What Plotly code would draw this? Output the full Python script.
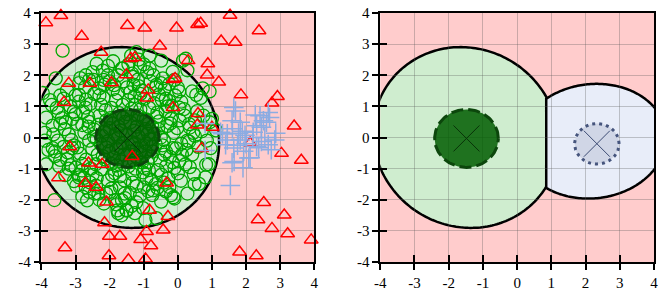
import numpy as np
import plotly.graph_objects as go

# ---------------- data ----------------
tick_vals = [-4, -3, -2, -1, 0, 1, 2, 3, 4]
tick_text = ["-4", "-3", "-2", "-1", "0", "1", "2", "3", "4"]

# class 1 (green open circles)
green_outer = [
    (-3.38, 2.79), (-3.58, 1.90), (-2.38, 2.37), (-2.90, 1.37), (-2.47, 1.85), (-3.96, 1.43),
    (-3.86, 0.64), (-3.67, 0.38), (-3.29, 0.49), (-3.00, 0.75), (-2.71, 0.96), (-2.18, 1.85),
    (-1.65, 2.21), (-1.37, 2.63), (-1.21, 2.74), (-0.83, 2.63), (-0.49, 2.47), (0.23, 2.53),
    (0.28, 2.16), (-0.44, 1.90), (0.42, 1.48), (0.67, 1.27), (0.57, 0.85), (0.33, 0.43),
    (0.04, 0.96), (-0.83, 2.21), (-0.15, 2.11), (-1.11, 2.27), (-0.63, 1.69), (0.04, 1.48),
    (-0.25, 1.17), (0.15, 2.47), (0.73, 1.58), (0.93, 0.49), (1.12, 0.23), (0.93, 1.48),
    (0.54, 1.37), (-3.62, -2.01), (-3.67, -0.34), (-3.48, -0.92), (-3.86, -0.86), (-3.10, -0.34),
    (-3.00, -0.97), (-2.90, -1.28), (-2.33, -1.80), (-1.99, -1.75), (-1.75, -2.43), (-1.51, -2.33),
    (-1.85, -2.01), (-1.56, -1.80), (-1.26, -2.43), (-1.02, -2.27), (-1.11, -1.86), (-0.63, -2.59),
    (-0.49, -2.06), (-0.10, -1.96), (0.28, -1.80), (0.62, -1.49), (0.47, -1.18), (0.81, -1.28),
    (0.91, -0.86), (0.96, -0.34), (0.09, -1.39), (-0.25, -1.59), (-0.73, -1.70), (-0.34, -0.92),
    (0.04, -0.76), (0.42, -0.55), (-0.15, -0.34), (0.33, -0.13), (-0.95, -2.65), (-0.13, -1.92),
    (0.49, -1.50), (0.83, -0.87), (-1.77, -2.34), (0.70, 0.20), (0.85, -0.10), (0.60, -0.30),
    (1.00, 0.60), (0.75, 0.70), (0.50, 0.05), (-3.75, 1.20), (-3.45, 1.35), (-3.90, 0.15),
    (-3.80, -0.40), (-3.90, -0.10), (-3.60, -0.60),
]
green_inner = [
    (-1.52, 0.08), (-1.31, -0.22), (-1.74, 0.35), (-2.05, -0.12), (-0.96, 0.27), (-1.18, 0.71),
    (-1.88, -0.64), (-2.33, 0.41), (-0.72, -0.45), (-1.45, -0.93), (-1.62, 1.05), (-2.51, -0.37),
    (-0.55, 0.52), (-1.02, -1.12), (-2.12, 0.88), (-1.27, 1.33), (-2.74, 0.15), (-0.41, -0.08),
    (-1.93, -1.21), (-0.84, 0.95), (-2.41, -0.86), (-1.11, -0.48), (-1.69, -0.31), (-2.26, -0.21),
    (-0.68, 0.12), (-1.39, 0.49), (-1.98, 0.62), (-0.89, -0.79), (-1.57, -1.38), (-2.63, 0.66),
    (-0.31, 0.37), (-1.05, 1.51), (-2.18, 1.27), (-0.59, -1.05), (-2.87, -0.52), (-1.76, 1.42),
    (-0.23, -0.62), (-2.95, 0.44), (-1.21, -1.56), (-0.47, 1.21), (-2.57, 1.08), (-1.83, 0.11),
    (-1.15, 0.03), (-2.38, -1.31), (-0.77, -1.37), (-3.12, -0.08), (-0.12, 0.15), (-1.66, -0.77),
    (-2.02, -0.44), (-1.36, 0.92), (-0.93, 0.58), (-2.69, -0.71), (-0.36, 0.84), (-1.49, 1.61),
    (-2.24, -1.02), (-0.65, -0.21), (-3.05, 0.83), (-0.05, -0.35), (-1.87, 1.68), (-2.81, -1.06),
    (-0.18, 1.02), (-3.23, -0.48), (-1.29, -0.74), (-1.60, 0.63), (-2.15, 0.19), (-0.82, -0.05),
    (-1.07, -0.28), (-2.46, 0.03), (-1.73, -1.05), (-0.51, -0.74), (-2.90, 1.15), (-0.99, 1.24),
    (-2.31, 1.58), (-0.10, -0.98), (-1.41, -1.78), (-3.32, 0.27), (-0.28, -1.31), (-1.95, -1.64),
    (-2.58, -1.44), (0.05, 0.55), (-3.15, -0.89), (-0.64, 1.62), (-1.17, 1.86), (-2.05, 2.00),
    (-2.72, 1.62), (-3.40, 0.62), (0.12, -0.55), (-0.87, -1.72), (-1.64, -2.02), (-2.44, -1.80),
    (-3.30, -1.21), (0.18, 0.91), (-0.39, 1.56), (-1.34, 2.05), (-2.86, 1.91), (-3.52, -0.10),
    (0.28, -0.10), (-0.60, -1.62), (-1.22, -2.08), (-2.17, -2.12), (-2.98, -1.55), (-3.55, 0.95),
    (-0.08, 1.35), (-0.72, 2.00), (-1.62, 2.22), (-2.50, 2.10), (-3.25, 1.52), (0.35, 0.32),
    (0.22, -0.86), (-0.35, -1.73), (-1.50, -2.35), (-2.66, -2.02), (-3.45, -0.72), (-0.25, 1.72),
    (-1.00, 2.35), (-1.90, 2.45), (-1.20, 0.35), (-1.80, -0.35), (-1.40, -0.45), (-1.00, 0.60),
    (-2.00, 0.30), (-1.55, 0.50), (-1.35, -0.15), (-1.75, 0.00), (-1.25, -1.00), (-1.95, 0.95),
    (-0.75, 0.35), (-2.20, -0.60), (-1.05, -0.80), (-2.60, -0.10), (-0.50, 0.00), (-1.45, 1.20),
    (-1.70, -1.60), (-0.95, -0.45), (-2.30, 0.70), (-0.60, 0.80), (-2.80, 0.40), (-2.45, 1.40),
    (-3.05, -0.25), (-0.35, -0.45), (-0.20, 0.60), (-2.75, -1.30), (-1.30, 1.70), (-0.85, -1.05),
]
green_extra = [
    (-1.62, -0.18), (-1.28, 0.22), (-1.90, 0.45), (-2.10, -0.32), (-0.88, 0.12), (-1.10, 0.90),
    (-1.95, -0.85), (-2.45, 0.25), (-0.78, -0.62), (-1.33, -1.18), (-1.82, 1.20), (-2.35, -0.55),
    (-0.62, 0.66), (-0.92, -1.30), (-2.25, 1.05), (-1.40, 1.45), (-2.62, 0.35), (-0.45, -0.25),
    (-2.05, -1.38), (-0.70, 1.10), (-2.55, -1.00), (-1.22, -0.62), (-1.58, -0.55), (-2.38, -0.05),
    (-0.58, 0.28), (-1.48, 0.75), (-2.10, 0.55), (-0.98, -0.98), (-1.70, -1.25), (-2.78, 0.82),
    (-0.22, 0.45), (-1.15, 1.65), (-2.30, 1.35), (-0.48, -1.20), (-2.95, -0.32), (-1.90, 1.55),
    (-0.15, -0.80), (-3.10, 0.60), (-1.32, -1.45), (-0.55, 1.38), (-2.70, 1.22), (-1.68, 0.22),
    (-1.05, 0.15), (-2.50, -1.20), (-0.65, -1.50), (-3.20, 0.10), (-0.02, 0.30), (-1.80, -0.90),
    (-2.15, -0.70), (-1.25, 1.05), (-0.85, 0.45), (-2.80, -0.85), (-0.30, 1.00), (-1.60, 1.80),
    (-2.40, -1.55), (-0.75, -0.30), (-3.15, 1.00), (0.10, -0.20), (-2.00, 1.80), (-2.90, -1.20),
    (-0.35, 1.25), (-3.35, -0.30), (-1.42, -0.80), (-1.72, 0.78), (-2.22, 0.05), (-0.92, -0.20),
    (-1.20, -0.35), (-2.60, 0.50), (-1.85, -1.15), (-0.40, -0.55), (-3.00, 1.35), (-1.10, 1.40),
    (-2.15, 1.70), (0.00, -1.15), (-1.55, -1.95), (-3.45, 0.45), (-0.40, -1.45), (-2.10, -1.80),
    (-2.70, -1.60), (0.20, 0.70), (-3.25, -0.70), (-0.80, 1.80), (-1.30, 1.95), (-2.20, 2.15),
    (-2.90, 1.75), (-3.50, 0.80), (0.25, -0.40), (-1.00, -1.60), (-1.80, -2.15), (-2.60, -1.75),
    (-3.20, -1.00), (0.10, 1.15), (-0.50, 1.75), (-1.45, 2.35), (-2.70, 2.00), (-3.65, 0.10),
    (0.45, 0.15), (-0.75, -1.85), (-1.35, -2.20), (-2.30, -2.00), (-3.05, -1.40), (-3.70, 1.05),
    (0.00, 1.60), (-0.90, 2.10), (-1.75, 2.00), (-2.60, 1.85), (-3.35, 1.25), (0.50, 0.55),
    (0.35, -0.95), (-0.20, -1.85), (-1.65, -2.50), (-2.80, -1.90), (-3.60, -0.45), (-0.10, 1.85),
    (-1.15, 2.50), (-2.05, 2.30),
]
green_pts = green_outer + green_inner + green_extra
green_x = [p[0] for p in green_pts]
green_y = [p[1] for p in green_pts]

# class 2 (red open triangles)
red_pts = [
    (-3.87, 3.69), (-3.43, 3.92), (-2.82, 3.25), (-1.48, 3.60), (-0.97, 3.52), (-0.04, 3.52),
    (0.58, 3.63), (0.67, 3.67), (1.53, 3.93), (2.38, 3.43), (1.27, 3.10), (1.68, 3.06),
    (-0.53, 2.94), (-2.25, 2.74), (-1.38, 2.54), (-1.26, 2.57), (0.30, 2.47), (0.88, 2.37),
    (0.86, 2.01), (1.20, 1.78), (-0.08, 1.90), (-0.14, 1.86), (-1.51, 2.02), (-2.58, 1.74),
    (-3.20, 1.74), (-1.95, 1.76), (-0.87, 1.53), (-0.91, 1.27), (-3.34, 1.13), (-0.14, 0.96),
    (0.59, 0.77), (1.85, 1.37), (2.76, 1.11), (2.92, 1.32), (3.41, 0.37), (0.57, 0.40),
    (1.00, 0.33), (2.12, -0.18), (-3.17, -0.30), (-1.34, -0.61), (0.70, -0.35), (3.04, -0.51),
    (3.62, -0.73), (-3.50, -1.29), (-2.62, -0.82), (-2.22, -0.86), (-2.40, -1.60), (-2.72, -1.47),
    (-0.33, -1.46), (-2.09, -2.07), (-0.83, -2.34), (-0.29, -2.54), (-2.15, -2.74), (-2.01, -3.17),
    (-1.70, -3.17), (-0.92, -3.02), (-0.43, -2.97), (-1.09, -3.28), (-0.79, -3.48), (-3.31, -3.54),
    (-2.02, -3.80), (-1.45, -3.93), (-0.95, -3.90), (2.52, -2.09), (2.35, -2.64), (3.12, -2.49),
    (2.76, -2.92), (3.22, -3.09), (3.91, -3.29), (1.81, -3.68), (2.30, -3.80),
]
red_x = [p[0] for p in red_pts]
red_y = [p[1] for p in red_pts]

# class 3 (blue plus markers)
blue_pts = [
    (1.69, 0.85), (1.64, 0.96), (1.59, 0.54), (1.83, 0.49), (2.41, 0.70), (2.65, 0.80),
    (2.51, 0.54), (2.31, 0.38), (2.45, 0.33), (2.69, 0.64), (2.87, 0.14), (1.45, 0.12),
    (1.78, 0.14), (1.97, 0.07), (2.21, 0.17), (2.60, 0.49), (1.25, 0.17), (2.27, 0.72),
    (1.60, 0.28), (1.89, 0.20), (1.45, -0.08), (1.83, -0.08), (1.64, -0.34), (1.93, -0.44),
    (2.12, -0.65), (1.59, -0.81), (1.91, -0.97), (2.45, -0.13), (2.65, -0.23), (2.74, -0.39),
    (2.84, -0.08), (2.31, -0.29), (1.54, -1.54), (1.40, -0.23), (2.08, -0.66), (2.37, -0.33),
    (2.00, -0.20), (1.75, -0.25), (2.20, 0.00), (2.55, 0.00), (0.80, 0.45), (0.80, -0.42),
    (1.31, 0.12), (1.65, -0.77),
]
blue_x = [p[0] for p in blue_pts]
blue_y = [p[1] for p in blue_pts]

# fitted model components (centres / radii)
green_mean = (-1.48, -0.03)
green_core_r = 0.93
blue_mean = (2.33, -0.20)
blue_core_r = 0.65

# decision regions (ellipse-like boundaries)
green_region = dict(cx=-1.5, cy=0.0, rx=2.71, ry=2.9, shear=-0.058)
blue_region = dict(cx=2.2, cy=-0.12, rx=2.15, ry=1.84, shear=0.05, xcut=0.85)

# ---------------- colours ----------------
PINK = "rgb(255,204,204)"
LGREEN = "rgb(207,237,207)"
LBLUE = "rgb(232,237,249)"
GRID = "rgba(90,90,90,0.32)"
FONT = dict(family="Liberation Serif", size=15, color="black")


def ellipse_path(p, t):
    x = p["cx"] + p["rx"] * np.cos(t)
    y = p["cy"] + p["ry"] * np.sin(t) + p["shear"] * (x - p["cx"])
    return "M " + " L ".join(f"{a:.4f},{b:.4f}" for a, b in zip(x, y)) + " Z"


t_full = np.linspace(0, 2 * np.pi, 241)[:-1]
green_path = ellipse_path(green_region, t_full)
tc = np.arccos((blue_region["xcut"] - blue_region["cx"]) / blue_region["rx"])
blue_path = ellipse_path(blue_region, np.linspace(-tc, tc, 200))


def disk(c, r):
    t = np.linspace(0, 2 * np.pi, 121)
    return c[0] + r * np.cos(t), c[1] + r * np.sin(t)


fig = go.Figure()

# ---- left panel ----
fig.add_trace(go.Scatter(x=green_x, y=green_y, mode="markers", xaxis="x", yaxis="y",
                         marker=dict(symbol="circle-open", size=13, color="rgb(0,168,0)",
                                     line=dict(width=1.3)), hoverinfo="skip"))
dx, dy = disk(green_mean, green_core_r)
fig.add_trace(go.Scatter(x=dx, y=dy, mode="lines", fill="toself", xaxis="x", yaxis="y",
                         fillcolor="rgba(0,92,0,0.85)",
                         line=dict(color="rgb(12,70,12)", width=3, dash="12px,5px"),
                         hoverinfo="skip"))
fig.add_trace(go.Scatter(x=red_x, y=red_y, mode="markers", xaxis="x", yaxis="y", cliponaxis=False,
                         marker=dict(symbol="triangle-up-open", size=12, color="rgb(255,0,0)",
                                     line=dict(width=1.5)), hoverinfo="skip"))
fig.add_trace(go.Scatter(x=blue_x, y=blue_y, mode="markers", xaxis="x", yaxis="y",
                         marker=dict(symbol="cross-thin-open", size=14, color="rgb(140,172,226)",
                                     line=dict(width=1.5, color="rgb(140,172,226)")),
                         hoverinfo="skip"))
fig.add_trace(go.Scatter(x=[green_mean[0]], y=[green_mean[1]], mode="markers", xaxis="x", yaxis="y",
                         marker=dict(symbol="x-thin-open", size=26, color="rgb(8,50,8)",
                                     line=dict(width=1, color="rgb(8,50,8)")), hoverinfo="skip"))

# ---- right panel ----
dx, dy = disk(green_mean, green_core_r)
fig.add_trace(go.Scatter(x=dx, y=dy, mode="lines", fill="toself", xaxis="x2", yaxis="y2",
                         fillcolor="rgba(0,92,0,0.85)",
                         line=dict(color="rgb(12,70,12)", width=3, dash="12px,5px"),
                         hoverinfo="skip"))
fig.add_trace(go.Scatter(x=[green_mean[0]], y=[green_mean[1]], mode="markers", xaxis="x2", yaxis="y2",
                         marker=dict(symbol="x-thin-open", size=26, color="rgb(8,50,8)",
                                     line=dict(width=1, color="rgb(8,50,8)")), hoverinfo="skip"))
bx, by = disk(blue_mean, blue_core_r)
fig.add_trace(go.Scatter(x=bx, y=by, mode="lines", fill="toself", xaxis="x2", yaxis="y2",
                         fillcolor="rgb(208,214,230)",
                         line=dict(color="rgb(70,85,125)", width=3, dash="3px,4px"),
                         hoverinfo="skip"))
fig.add_trace(go.Scatter(x=[blue_mean[0]], y=[blue_mean[1]], mode="markers", xaxis="x2", yaxis="y2",
                         marker=dict(symbol="x-thin-open", size=26, color="rgb(60,75,115)",
                                     line=dict(width=1, color="rgb(60,75,115)")), hoverinfo="skip"))

# empty traces for the inner-tick overlay axes
fig.add_trace(go.Scatter(x=[], y=[], xaxis="x3", yaxis="y3", showlegend=False))
fig.add_trace(go.Scatter(x=[], y=[], xaxis="x4", yaxis="y4", showlegend=False))

shapes = [
    dict(type="path", path=green_path, xref="x", yref="y", layer="below",
         fillcolor=LGREEN, line=dict(color="black", width=2.5)),
    dict(type="path", path=green_path, xref="x2", yref="y2", layer="below",
         fillcolor=LGREEN, line=dict(color="black", width=2.5)),
    dict(type="path", path=blue_path, xref="x2", yref="y2", layer="below",
         fillcolor=LBLUE, line=dict(color="black", width=2.5)),
]

ax = dict(range=[-4, 4], tickmode="array", tickvals=tick_vals, ticktext=tick_text,
          ticks="outside", ticklen=6, tickwidth=1.5, tickcolor="black",
          showgrid=True, gridcolor=GRID, gridwidth=1, zeroline=False,
          showline=True, linecolor="black", linewidth=1.5, mirror=True,
          tickfont=FONT, fixedrange=True)
inner = dict(range=[-4, 4], tickmode="array", tickvals=tick_vals, ticks="inside",
             ticklen=7, tickwidth=1.5, tickcolor="black", showticklabels=False,
             showgrid=False, zeroline=False, showline=False, fixedrange=True)

d1 = [36 / 660, 313 / 660]
d2 = [380 / 660, 658 / 660]

fig.update_layout(
    width=660, height=291, autosize=False,
    margin=dict(l=0, r=0, t=13, b=23),
    paper_bgcolor="white", plot_bgcolor=PINK,
    showlegend=False, shapes=shapes,
    xaxis=dict(ax, domain=d1, anchor="y"),
    yaxis=dict(ax, domain=[0, 1], anchor="x"),
    xaxis2=dict(ax, domain=d2, anchor="y2"),
    yaxis2=dict(ax, domain=[0, 1], anchor="x2"),
    xaxis3=dict(inner, overlaying="x", anchor="y3", side="bottom"),
    yaxis3=dict(inner, overlaying="y", anchor="x3", side="left"),
    xaxis4=dict(inner, overlaying="x2", anchor="y4", side="bottom"),
    yaxis4=dict(inner, overlaying="y2", anchor="x4", side="left"),
)

fig.write_html("out.html", config={"displayModeBar": False},
               post_script="document.body.style.margin='0px';")
